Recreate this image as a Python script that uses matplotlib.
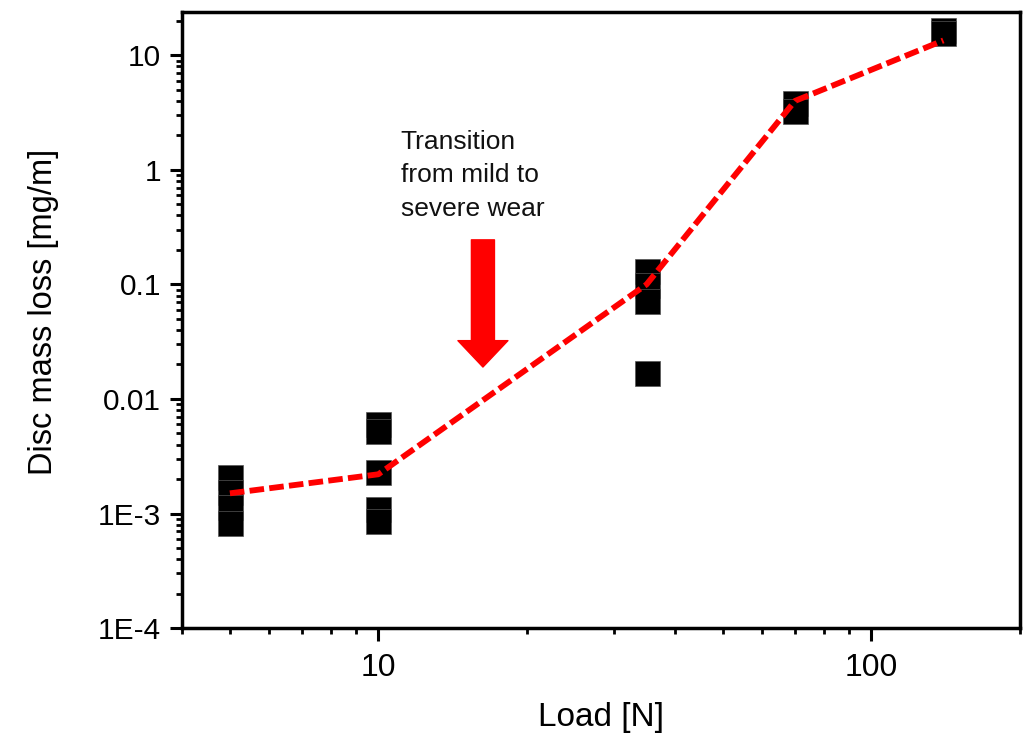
import matplotlib
matplotlib.use("Agg")
import matplotlib.pyplot as plt
from matplotlib.ticker import LogLocator, NullFormatter

plt.rcParams['font.family'] = ['Liberation Sans', 'DejaVu Sans']

# measured points (load in N, disc mass loss in mg/m)
load_pts = [5, 5, 5, 5, 10, 10, 10, 10, 10, 35, 35, 35, 35, 70, 70, 140, 140]
loss_pts = [2.1e-3, 1.55e-3, 1.15e-3, 0.83e-3,
            6.1e-3, 5.2e-3, 2.3e-3, 1.1e-3, 0.86e-3,
            0.13, 0.098, 0.072, 0.0168,
            3.85, 3.28, 16.7, 15.7]

# trend line through the mean values
trend_load = [5, 10, 35, 70, 140]
trend_loss = [1.5e-3, 2.2e-3, 0.1, 4.0, 13.5]

ytick_vals = [1e-4, 1e-3, 0.01, 0.1, 1, 10]
ytick_text = ['1E-4', '1E-3', '0.01', '0.1', '1', '10']

fig = plt.figure(figsize=(10.29, 7.38), dpi=100)
ax = fig.add_axes([0.177, 0.149, 0.814, 0.835])

ax.plot(load_pts, loss_pts, linestyle='none', marker='s', ms=18,
        color='black', mec='#555555', mew=0.5, zorder=2)
line, = ax.plot(trend_load, trend_loss, color='#ff0000', lw=4.2, zorder=3)
line.set_dashes([2.5, 0.9])

ax.set_xscale('log')
ax.set_yscale('log')
ax.set_xlim(4, 200)
ax.set_ylim(1e-4, 24)

ax.set_xticks([10, 100])
ax.set_xticklabels(['10', '100'])
ax.xaxis.set_minor_locator(LogLocator(base=10, subs=range(2, 10), numticks=20))
ax.xaxis.set_minor_formatter(NullFormatter())
ax.set_yticks(ytick_vals)
ax.set_yticklabels(ytick_text)
ax.yaxis.set_minor_locator(LogLocator(base=10, subs=range(2, 10), numticks=20))
ax.yaxis.set_minor_formatter(NullFormatter())

ax.tick_params(which='major', direction='out', length=9, width=2.2,
               labelsize=21.5, pad=6)
ax.tick_params(axis='x', which='major', labelsize=23, pad=9)
ax.tick_params(which='minor', direction='out', length=4.5, width=2)
for s in ax.spines.values():
    s.set_linewidth(2.5)

ax.set_xlabel('Load [N]', fontsize=24, labelpad=14)
ax.set_ylabel('Disc mass loss [mg/m]', fontsize=23.5)
ax.yaxis.set_label_coords(-0.147, 0.513)

# transition arrow and note
ax.annotate('', xy=(16.3, 0.019), xytext=(16.3, 0.245),
            arrowprops=dict(arrowstyle='simple,head_width=1.8,head_length=0.95,tail_width=0.83',
                            mutation_scale=20, color='#ff0000',
                            shrinkA=0, shrinkB=0))
ax.text(11.1, 2.25, 'Transition\nfrom mild to\nsevere wear', fontsize=19,
        va='top', ha='left', linespacing=1.5, color='#111111')

fig.savefig('out.png', dpi=100)
